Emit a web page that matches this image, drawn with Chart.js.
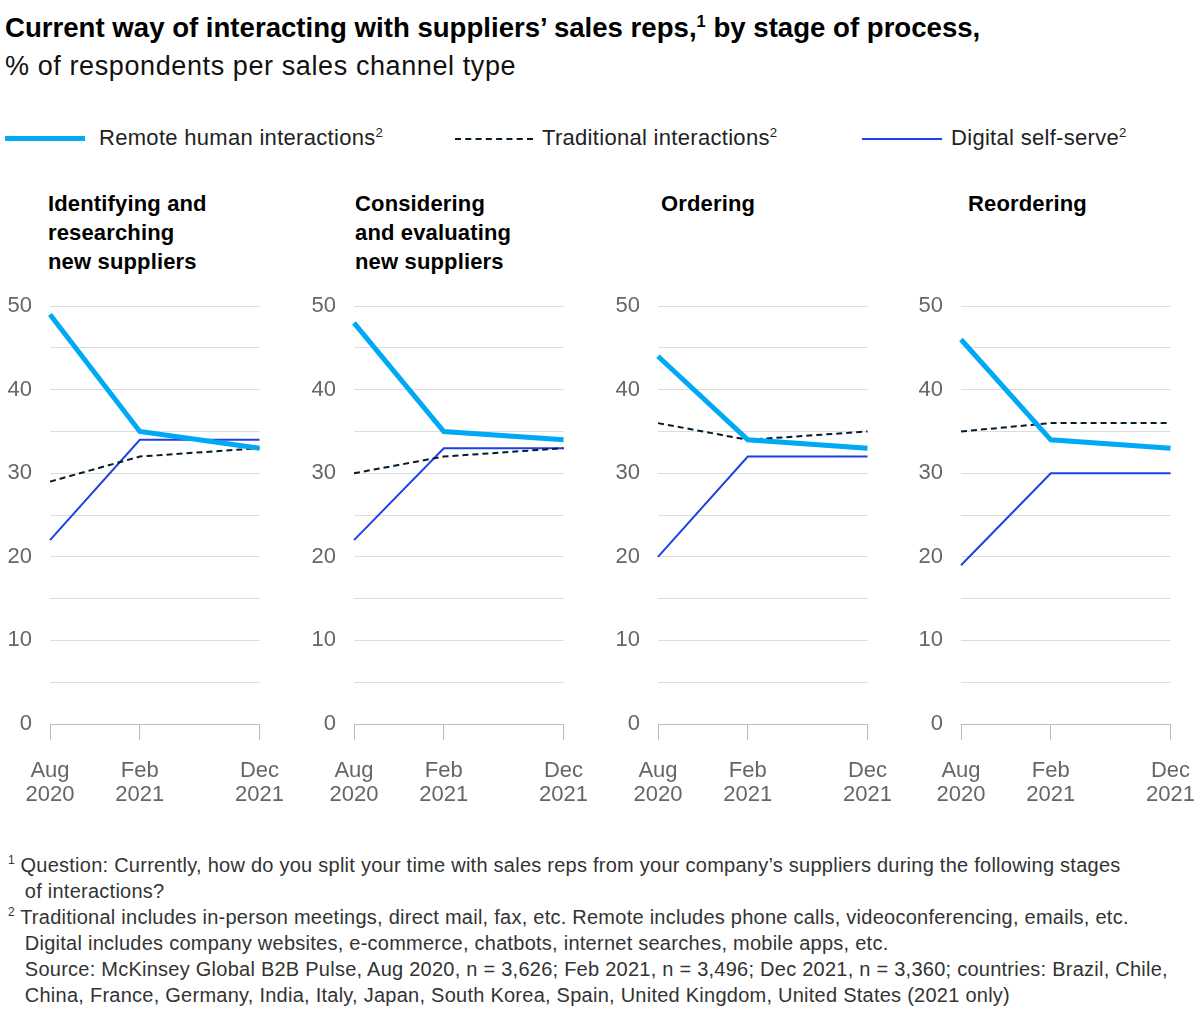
<!DOCTYPE html>
<html lang="en">
<head>
    <meta charset="UTF-8">
    <title>Interacting with suppliers' sales reps</title>
    <script src="https://cdn.jsdelivr.net/npm/chart.js@4.4.1/dist/chart.umd.min.js"></script>
    <style>
        body {
            margin: 0;
            width: 1200px;
            height: 1016px;
            position: relative;
            background: #fff;
            font-family: "Liberation Sans", Arial, sans-serif;
            color: #111;
            overflow: hidden;
        }
        .title {
            position: absolute;
            left: 5px;
            top: 12px;
            font-size: 27.6px;
            font-weight: bold;
            color: #000;
            white-space: nowrap;
        }
        .subtitle {
            position: absolute;
            left: 5px;
            top: 51px;
            font-size: 27px;
            letter-spacing: 0.6px;
            white-space: nowrap;
        }
        sup {
            font-size: 60%;
            line-height: 0;
            letter-spacing: 0;
        }
        .legend-item {
            position: absolute;
            top: 125px;
            font-size: 22px;
            letter-spacing: 0.3px;
            color: #222;
            white-space: nowrap;
            line-height: 26px;
        }
        .swatch {
            position: absolute;
            width: 80px;
        }
        .stage {
            position: absolute;
            top: 189px;
            font-size: 22px;
            letter-spacing: 0.15px;
            font-weight: bold;
            line-height: 29px;
            color: #000;
        }
        .panel {
            position: absolute;
            top: 276px;
            width: 303px;
            height: 534px;
        }
        .notes {
            position: absolute;
            left: 8px;
            top: 852px;
            font-size: 20px;
            letter-spacing: 0.25px;
            line-height: 26px;
            color: #333;
            white-space: nowrap;
        }
        .notes div { padding-left: 11px; text-indent: -11px; }
    </style>
</head>
<body>
    <div class="title">Current way of interacting with suppliers’ sales reps,<sup>1</sup> by stage of process,</div>
    <div class="subtitle">% of respondents per sales channel type</div>

    <div id="legend"></div>
    <div id="panels"></div>

    <div class="notes">
        <div><sup>1</sup> Question: Currently, how do you split your time with sales reps from your company’s suppliers during the following stages<br>&nbsp;of interactions?</div>
        <div><sup>2</sup> Traditional includes in-person meetings, direct mail, fax, etc. Remote includes phone calls, videoconferencing, emails, etc.<br>&nbsp;Digital includes company websites, e-commerce, chatbots, internet searches, mobile apps, etc.<br>&nbsp;Source: McKinsey Global B2B Pulse, Aug 2020, n = 3,626; Feb 2021, n = 3,496; Dec 2021, n = 3,360; countries: Brazil, Chile,<br>&nbsp;China, France, Germany, India, Italy, Japan, South Korea, Spain, United Kingdom, United States (2021 only)</div>
    </div>

    <script>
        // survey waves and where they sit on the x axis (picture is not to time scale)
        const periods = [['Aug', '2020'], ['Feb', '2021'], ['Dec', '2021']];
        const periodPos = [0, 3, 7];

        const stages = [
            ['Identifying and', 'researching', 'new suppliers'],
            ['Considering', 'and evaluating', 'new suppliers'],
            ['Ordering'],
            ['Reordering']
        ];

        // one row per stage, values per wave
        const remote      = [[49, 35, 33], [48, 35, 34], [44, 34, 33], [46, 34, 33]];
        const traditional = [[29, 32, 33], [30, 32, 33], [36, 34, 35], [35, 36, 36]];
        const digital     = [[22, 34, 34], [22, 33, 33], [20, 32, 32], [19, 30, 30]];

        const seriesNames = ['Remote human interactions', 'Traditional interactions', 'Digital self-serve'];
        const yTicks = [0, 10, 20, 30, 40, 50];

        const LIGHT_BLUE = '#00a9f4';
        const DARK_BLUE = '#1f40e6';
        const NAVY = '#051c2c';
        const AXIS_FONT = { family: '"Liberation Sans", Arial, sans-serif', size: 22, lineHeight: 1.1 };

        // legend
        const legendSpots = [
            { x: 5, text: 99, style: 'border-top:5px solid ' + LIGHT_BLUE + ';top:136px' },
            { x: 455, text: 542, style: 'border-top:2px dashed ' + NAVY + ';top:138px;width:78px' },
            { x: 862, text: 951, style: 'border-top:2px solid ' + DARK_BLUE + ';top:138px' }
        ];
        const legend = document.getElementById('legend');
        legendSpots.forEach((s, i) => {
            legend.innerHTML += '<div class="swatch" style="left:' + s.x + 'px;' + s.style + '"></div>' +
                '<div class="legend-item" style="left:' + s.text + 'px">' + seriesNames[i] + '<sup>2</sup></div>';
        });

        const panelLeft = [0, 304, 608, 911];
        const stageLeft = [48, 355, 661, 968];
        const panels = document.getElementById('panels');

        stages.forEach((lines, i) => {
            const t = document.createElement('div');
            t.className = 'stage';
            t.style.left = stageLeft[i] + 'px';
            t.innerHTML = lines.join('<br>');
            panels.appendChild(t);

            const box = document.createElement('div');
            box.className = 'panel';
            box.style.left = panelLeft[i] + 'px';
            const cv = document.createElement('canvas');
            box.appendChild(cv);
            panels.appendChild(box);

            const pts = arr => arr.map((v, k) => ({ x: periodPos[k], y: v }));

            new Chart(cv, {
                type: 'line',
                data: {
                    datasets: [
                        { label: seriesNames[0], data: pts(remote[i]), borderColor: LIGHT_BLUE, borderWidth: 5 },
                        { label: seriesNames[1], data: pts(traditional[i]), borderColor: NAVY, borderWidth: 2, borderDash: [6, 4] },
                        { label: seriesNames[2], data: pts(digital[i]), borderColor: DARK_BLUE, borderWidth: 2 }
                    ]
                },
                options: {
                    responsive: true,
                    maintainAspectRatio: false,
                    animation: false,
                    clip: 8,
                    elements: { point: { radius: 0 }, line: { tension: 0 } },
                    layout: { padding: { top: 2, right: 37, left: 0, bottom: 0 } },
                    plugins: { legend: { display: false }, tooltip: { enabled: false } },
                    scales: {
                        x: {
                            type: 'linear',
                            min: periodPos[0],
                            max: periodPos[periodPos.length - 1],
                            afterBuildTicks: axis => { axis.ticks = periodPos.map(v => ({ value: v })); },
                            afterFit: axis => { axis.height = 86; },
                            grid: { drawOnChartArea: false, drawTicks: true, tickLength: 16, color: '#bdbdbd' },
                            border: { display: true, color: '#bdbdbd', width: 1 },
                            ticks: {
                                autoSkip: false,
                                maxRotation: 0,
                                padding: 19,
                                color: '#666',
                                font: AXIS_FONT,
                                callback: (v, k) => periods[k]
                            }
                        },
                        y: {
                            min: yTicks[0],
                            max: yTicks[yTicks.length - 1],
                            afterFit: axis => { axis.width = 50; },
                            grid: { color: '#dcdcdc', drawTicks: false },
                            border: { display: false },
                            ticks: {
                                stepSize: 5,
                                padding: 18,
                                color: '#666',
                                font: AXIS_FONT,
                                callback: v => yTicks.includes(v) ? v : ''
                            }
                        }
                    }
                }
            });
        });
    </script>
</body>
</html>
